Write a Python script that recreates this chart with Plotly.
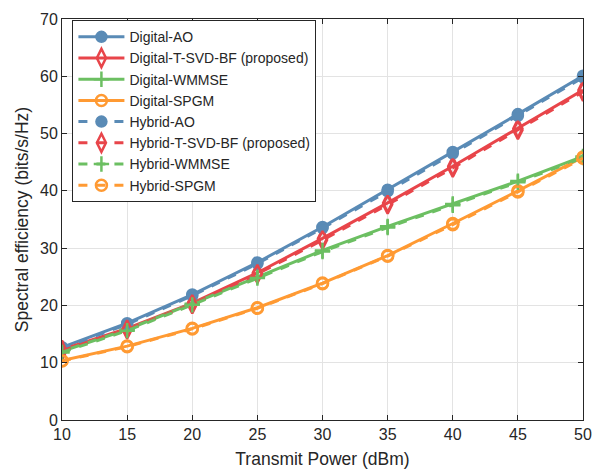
import plotly.graph_objects as go

power = [10, 15, 20, 25, 30, 35, 40, 45, 50]

digital_ao = [12.7, 16.9, 21.9, 27.5, 33.7, 40.2, 46.8, 53.4, 60.1]
digital_tsvd = [12.3, 16.0, 20.4, 25.7, 31.7, 37.9, 44.3, 50.9, 57.6]
digital_wmmse = [12.0, 15.8, 20.3, 25.0, 29.6, 33.8, 37.7, 41.7, 46.0]
digital_spgm = [10.4, 12.9, 16.0, 19.6, 23.9, 28.7, 34.3, 40.0, 45.9]

hybrid_ao = [12.5, 16.7, 21.7, 27.3, 33.5, 39.9, 46.5, 53.1, 59.8]
hybrid_tsvd = [12.1, 15.8, 20.2, 25.5, 31.4, 37.6, 44.0, 50.6, 57.3]
hybrid_wmmse = [11.8, 15.6, 20.1, 24.8, 29.4, 33.6, 37.5, 41.5, 45.8]
hybrid_spgm = [10.3, 12.8, 15.9, 19.5, 23.8, 28.6, 34.1, 39.8, 45.7]

names = [
    "Digital-AO", "Digital-T-SVD-BF (proposed)", "Digital-WMMSE", "Digital-SPGM",
    "Hybrid-AO", "Hybrid-T-SVD-BF (proposed)", "Hybrid-WMMSE", "Hybrid-SPGM",
]
series = [digital_ao, digital_tsvd, digital_wmmse, digital_spgm,
          hybrid_ao, hybrid_tsvd, hybrid_wmmse, hybrid_spgm]

colors = ["#5A8BB6", "#E8454A", "#6CBF62", "#FF9A33"]
symbols = ["circle", "diamond-tall-open", "cross-thin-open", "circle-open"]
sizes = [10, 13, 11, 11]

fig = go.Figure()
for i, (name, ys) in enumerate(zip(names, series)):
    k = i % 4
    dash = "solid" if i < 4 else "dash"
    fig.add_trace(go.Scatter(
        x=power, y=ys, name=name, mode="lines+markers",
        line=dict(color=colors[k], width=3, dash=dash),
        marker=dict(symbol=symbols[k], size=sizes[k], color=colors[k],
                    line=dict(color=colors[k], width=2.5)),
    ))

axis_common = dict(
    showline=True, linecolor="#262626", linewidth=1, mirror="ticks",
    ticks="inside", ticklen=5, tickcolor="#262626",
    showgrid=True, gridcolor="#E3E3E3", gridwidth=1,
    zeroline=False, tickfont=dict(size=16, color="#262626"),
)

fig.update_layout(
    width=603, height=476,
    margin=dict(l=62, r=19, t=11, b=54),
    paper_bgcolor="white", plot_bgcolor="white",
    font=dict(family="Liberation Sans, Arial, sans-serif", color="#262626"),
    xaxis=dict(range=[10, 50], tickvals=power,
               title=dict(text="Transmit Power (dBm)", font=dict(size=17.5), standoff=10),
               **axis_common),
    yaxis=dict(range=[0, 70], tickvals=[0, 10, 20, 30, 40, 50, 60, 70],
               title=dict(text="Spectral efficiency (bits/s/Hz)", font=dict(size=17.5), standoff=6),
               **axis_common),
    legend=dict(x=0.02, y=0.997, xanchor="left", yanchor="top",
                bgcolor="white", bordercolor="#262626", borderwidth=1,
                font=dict(size=14, color="#262626"), tracegroupgap=0,
                itemwidth=46),
    showlegend=True,
)

fig.write_html("out.html")
